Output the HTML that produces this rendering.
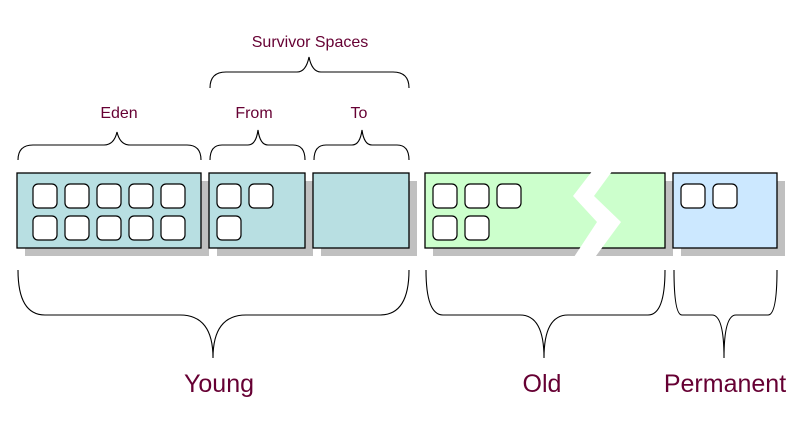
<!DOCTYPE html><html><head><style>body{margin:0;background:#fff}svg{display:block}</style></head><body>
<svg width="806" height="426" viewBox="0 0 806 426" xmlns="http://www.w3.org/2000/svg">
<g fill="#c0c0c0">
<rect x="25" y="181" width="184" height="75"/><rect x="217" y="181" width="96" height="75"/><rect x="321" y="181" width="96" height="75"/>
<rect x="433" y="181" width="240" height="75"/><rect x="681" y="181" width="104" height="75"/>
</g>
<g stroke="#000" stroke-width="1.3">
<rect x="17" y="173" width="184" height="75" fill="#b8dfe2"/><rect x="209" y="173" width="96" height="75" fill="#b8dfe2"/><rect x="313" y="173" width="96" height="75" fill="#b8dfe2"/>
<rect x="425" y="173" width="240" height="75" fill="#ccffcc"/><rect x="673" y="173" width="104" height="75" fill="#cce8ff"/>
</g>
<polygon points="593,170 613,170 594,196 621,222 593,260 572,260 597,222 573,196" fill="#fff"/>
<g fill="#fff" stroke="#000" stroke-width="1.2">
<rect x="33" y="184" width="24" height="24" rx="5"/><rect x="65" y="184" width="24" height="24" rx="5"/><rect x="97" y="184" width="24" height="24" rx="5"/><rect x="129" y="184" width="24" height="24" rx="5"/><rect x="161" y="184" width="24" height="24" rx="5"/>
<rect x="33" y="216" width="24" height="24" rx="5"/><rect x="65" y="216" width="24" height="24" rx="5"/><rect x="97" y="216" width="24" height="24" rx="5"/><rect x="129" y="216" width="24" height="24" rx="5"/><rect x="161" y="216" width="24" height="24" rx="5"/>
<rect x="217" y="184" width="24" height="24" rx="5"/><rect x="249" y="184" width="24" height="24" rx="5"/><rect x="217" y="216" width="24" height="24" rx="5"/>
<rect x="433" y="184" width="24" height="24" rx="5"/><rect x="465" y="184" width="24" height="24" rx="5"/><rect x="497" y="184" width="24" height="24" rx="5"/>
<rect x="433" y="216" width="24" height="24" rx="5"/><rect x="465" y="216" width="24" height="24" rx="5"/>
<rect x="681" y="184" width="24" height="24" rx="5"/><rect x="713" y="184" width="24" height="24" rx="5"/>
</g>
<g fill="none" stroke="#000" stroke-width="1.1">
<path d="M18,160 Q18,145 33,145 L104,145 Q114,145 117,132 Q120,145 130,145 L187,145 Q201,145 201,160"/>
<path d="M210,160 Q210,145 222,145 L248,145 Q256,145 258,130 Q260,145 268,145 L293,145 Q305,145 305,160"/>
<path d="M314,160 Q314,145 326,145 L352,145 Q360,145 362,130 Q364,145 372,145 L397,145 Q409,145 409,160"/>
<path d="M210,88 Q210,72 226,72 L297,72 Q306,72 309,57 Q312,72 321,72 L393,72 Q409,72 409,88"/>
<path d="M18,270 Q18,315 45,315 L180,315 Q213,315 213,358 Q213,315 246,315 L380,315 Q409,315 409,270"/>
<path d="M426,270 Q426,315 443,315 L520,315 Q544,315 544,358 Q544,315 568,315 L648,315 Q665,315 665,270"/>
<path d="M674,270 Q674,315 682,315 L712,315 Q724,315 724,358 Q724,315 736,315 L768,315 Q777,315 777,270"/>
</g>
<g fill="#660033" font-family="Liberation Sans, sans-serif" text-anchor="middle">
<text x="310" y="47" font-size="16">Survivor Spaces</text>
<text x="119" y="118" font-size="16">Eden</text>
<text x="254" y="118" font-size="16">From</text>
<text x="359" y="118" font-size="16">To</text>
<text x="219" y="392" font-size="25">Young</text>
<text x="542" y="392" font-size="25">Old</text>
<text x="725" y="392" font-size="25">Permanent</text>
</g>
</svg>
</body></html>
